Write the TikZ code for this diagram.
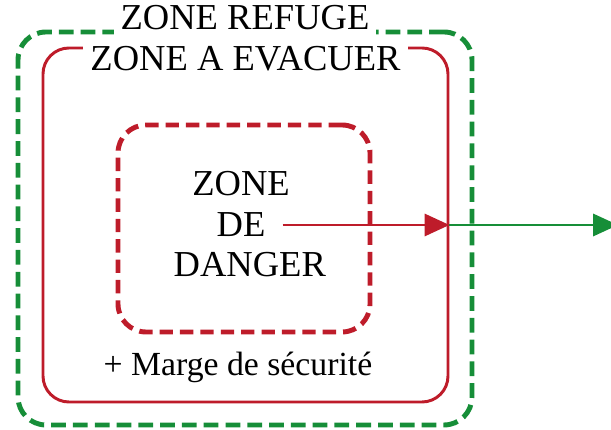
\documentclass[tikz,border=0pt]{standalone}
\usepackage{fontspec}
\setmainfont{Liberation Serif}
\usetikzlibrary{arrows.meta,positioning,calc}
\definecolor{refugegreen}{RGB}{22,142,56}
\definecolor{dangerred}{RGB}{190,28,42}

\begin{document}
\begin{tikzpicture}[zonebox/.style={inner sep=0pt},
  caption/.style={font=\fontsize{26}{30}\selectfont, fill=white, inner xsep=5pt, inner ysep=4.5pt},
  word/.style={font=\fontsize{26}{30}\selectfont, inner sep=0pt},
  arrowline/.style={-{Triangle[length=0.62cm,width=0.55cm]}, line width=2.1pt}]
  \useasboundingbox (0,0) rectangle (15.275,10.75);
  \node[zonebox, draw=refugegreen, line width=3.5pt, dash pattern=on 10.5pt off 5pt, rounded corners=0.7cm, minimum width=11.35cm, minimum height=9.825cm] (refuge) at (6.125,5.0375) {};
  \node[zonebox, draw=dangerred, line width=2.1pt, rounded corners=0.65cm, minimum width=10.125cm, minimum height=8.85cm] (evac) at (6.1375,5.125) {};
  \node[zonebox, draw=dangerred, line width=3.5pt, dash pattern=on 9.5pt off 5pt, rounded corners=0.7cm, minimum width=6.3cm, minimum height=5.175cm] (danger) at (6.1,5.0375) {};
  \node[caption, anchor=base] (refugetitle) at (refuge.north) {ZONE REFUGE};
  \node[caption, anchor=north, yshift=4.5pt] (evactitle) at (evac.north) {ZONE A EVACUER};
  \node[word] (de) at (6.025,5.125) {DE};
  \node[word, above=0.42cm of de] (zone) {ZONE};
  \node[word, below=0.38cm of de, xshift=0.22cm] (dangertxt) {DANGER};
  \node[word, font=\fontsize{24}{28}\selectfont, below=0.425cm of danger, xshift=-0.15cm] (marge) {+ Marge de sécurité};
  \coordinate (exit) at (15.45,0);
  \draw[arrowline, refugegreen] (de.east -| evac.east) -- (de.east -| exit);
  \draw[arrowline, dangerred, shorten <=0.425cm] (de.east) -- (de.east -| evac.east);
\end{tikzpicture}
\end{document}
